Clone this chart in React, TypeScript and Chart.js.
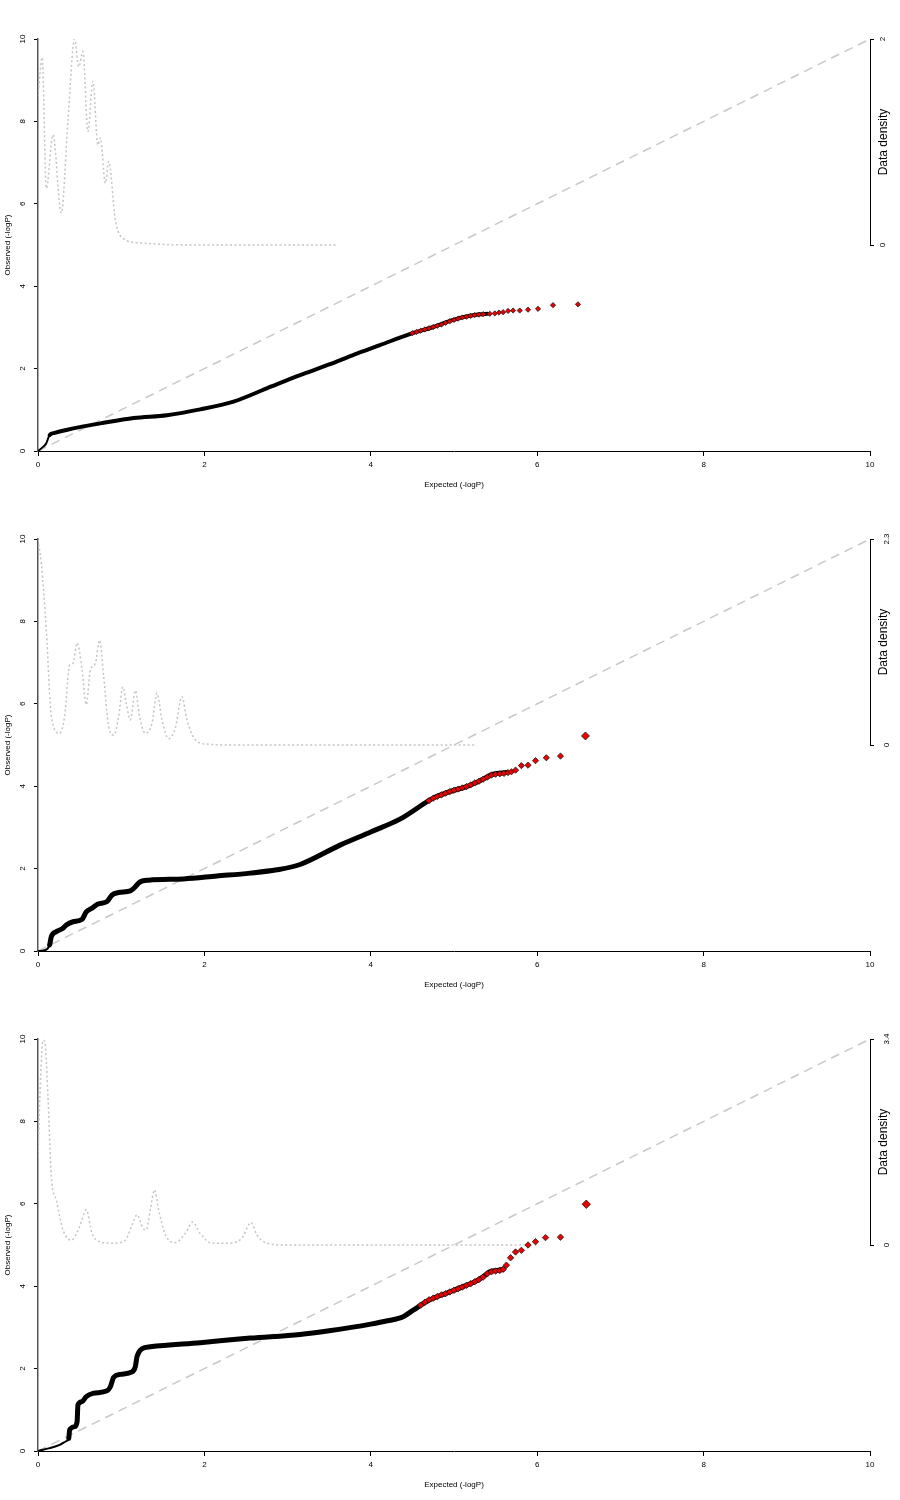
import React, { useEffect, useRef } from "react";
import { Chart, registerables } from "chart.js";
Chart.register(...registerables);

// ---------- shared axis values ----------
const xTicks = [0, 2, 4, 6, 8, 10];
const yTicks = [0, 2, 4, 6, 8, 10];
const densityMax = [2, 2.3, 3.4];
const diagonalX = [0, 10];
const diagonalY = [0, 10];

// ---------- panel 1 ----------
const qq1X = [0, 0.06, 0.10, 0.14, 0.2, 0.34, 0.5, 0.75, 1.15, 1.55, 1.95, 2.35, 2.75, 3.15, 3.5, 3.8, 4.11, 4.5, 4.75, 4.91, 5.11, 5.31, 5.4];
const qq1Y = [0, 0.10, 0.19, 0.39, 0.44, 0.51, 0.58, 0.67, 0.80, 0.87, 1.01, 1.20, 1.52, 1.84, 2.1, 2.34, 2.57, 2.86, 3.01, 3.13, 3.25, 3.32, 3.33];
const tail1X = [4.5, 4.55, 4.6, 4.65, 4.7, 4.75, 4.8, 4.85, 4.9, 4.95, 5.0, 5.05, 5.1, 5.15, 5.2, 5.25, 5.3, 5.35, 5.43, 5.49, 5.54, 5.59, 5.65, 5.71, 5.79, 5.89, 6.01, 6.19, 6.49];
const tail1Y = [2.86, 2.89, 2.92, 2.95, 2.98, 3.01, 3.04, 3.07, 3.11, 3.15, 3.18, 3.21, 3.24, 3.26, 3.28, 3.30, 3.31, 3.32, 3.33, 3.34, 3.36, 3.37, 3.40, 3.41, 3.41, 3.43, 3.45, 3.54, 3.56];
const dens1X = [0, 0.05, 0.10, 0.18, 0.28, 0.36, 0.44, 0.49, 0.54, 0.60, 0.66, 0.72, 0.75, 0.81, 0.85, 0.93, 1.03, 1.23, 1.95, 3.6];
const dens1Y = [1.44, 1.82, 0.55, 1.07, 0.31, 1.21, 2.0, 1.73, 1.88, 1.10, 1.59, 0.97, 1.04, 0.60, 0.81, 0.24, 0.06, 0.02, 0, 0];

// ---------- panel 2 ----------
const qq2X = [0, 0.08, 0.14, 0.16, 0.22, 0.30, 0.34, 0.42, 0.53, 0.58, 0.65, 0.72, 0.83, 0.89, 0.97, 1.11, 1.15, 1.23, 1.33, 1.75, 2.15, 2.55, 2.87, 3.15, 3.63, 4.0, 4.35, 4.75, 4.95, 5.15, 5.31, 5.47, 5.63];
const qq2Y = [0, 0.02, 0.15, 0.35, 0.47, 0.55, 0.63, 0.71, 0.77, 0.95, 1.04, 1.14, 1.20, 1.36, 1.42, 1.46, 1.52, 1.68, 1.72, 1.75, 1.82, 1.89, 1.97, 2.10, 2.57, 2.89, 3.2, 3.71, 3.87, 3.99, 4.13, 4.29, 4.33];
const tail2X = [4.7, 4.75, 4.8, 4.85, 4.9, 4.95, 5.0, 5.05, 5.1, 5.15, 5.2, 5.25, 5.3, 5.35, 5.4, 5.45, 5.5, 5.55, 5.6, 5.65, 5.69, 5.74, 5.81, 5.89, 5.98, 6.11, 6.28, 6.58];
const tail2Y = [3.65, 3.71, 3.75, 3.79, 3.83, 3.87, 3.90, 3.93, 3.96, 3.99, 4.03, 4.08, 4.12, 4.17, 4.22, 4.27, 4.29, 4.30, 4.31, 4.33, 4.35, 4.39, 4.50, 4.51, 4.62, 4.69, 4.73, 5.22];
const dens2X = [0, 0.04, 0.10, 0.16, 0.26, 0.32, 0.38, 0.42, 0.47, 0.53, 0.58, 0.63, 0.69, 0.74, 0.79, 0.85, 0.91, 0.97, 1.02, 1.06, 1.11, 1.17, 1.22, 1.29, 1.37, 1.43, 1.49, 1.57, 1.65, 1.73, 1.79, 1.89, 2.03, 2.35, 5.25];
const dens2Y = [2.29, 2.03, 1.28, 0.32, 0.13, 0.32, 0.89, 0.91, 1.14, 0.84, 0.45, 0.84, 0.91, 1.17, 0.76, 0.20, 0.11, 0.32, 0.65, 0.47, 0.28, 0.61, 0.32, 0.13, 0.24, 0.58, 0.28, 0.07, 0.19, 0.54, 0.28, 0.06, 0.01, 0, 0];

// ---------- panel 3 ----------
const qq3X = [0, 0.14, 0.26, 0.34, 0.37, 0.38, 0.44, 0.47, 0.48, 0.53, 0.58, 0.66, 0.83, 0.87, 0.91, 0.99, 1.13, 1.17, 1.19, 1.25, 1.35, 1.95, 2.55, 3.15, 3.5, 4.0, 4.2, 4.39, 4.51, 4.71, 4.91, 5.11, 5.27, 5.35, 5.43, 5.51, 5.59];
const qq3Y = [0, 0.07, 0.15, 0.24, 0.31, 0.51, 0.59, 0.71, 1.12, 1.20, 1.32, 1.40, 1.46, 1.56, 1.79, 1.86, 1.92, 2.05, 2.29, 2.48, 2.53, 2.63, 2.74, 2.83, 2.92, 3.08, 3.16, 3.26, 3.42, 3.67, 3.83, 3.99, 4.13, 4.23, 4.35, 4.38, 4.41];
const tail3X = [4.6, 4.65, 4.7, 4.75, 4.8, 4.85, 4.9, 4.95, 5.0, 5.05, 5.1, 5.15, 5.2, 5.25, 5.3, 5.35, 5.4, 5.45, 5.5, 5.55, 5.59, 5.63, 5.68, 5.74, 5.81, 5.89, 5.98, 6.10, 6.28, 6.59];
const tail3Y = [3.54, 3.61, 3.67, 3.71, 3.75, 3.79, 3.82, 3.86, 3.90, 3.94, 3.98, 4.02, 4.06, 4.11, 4.16, 4.22, 4.30, 4.35, 4.37, 4.38, 4.41, 4.51, 4.69, 4.83, 4.87, 5.00, 5.08, 5.18, 5.19, 5.99];
const dens3X = [0, 0.03, 0.06, 0.08, 0.12, 0.16, 0.22, 0.30, 0.40, 0.50, 0.58, 0.65, 0.75, 0.91, 1.05, 1.13, 1.19, 1.26, 1.30, 1.35, 1.40, 1.45, 1.53, 1.65, 1.77, 1.86, 1.95, 2.09, 2.27, 2.45, 2.56, 2.63, 2.75, 2.96, 5.85];
const dens3Y = [1.46, 2.72, 3.38, 3.36, 2.45, 1.13, 0.74, 0.25, 0.08, 0.30, 0.58, 0.19, 0.05, 0.03, 0.08, 0.33, 0.50, 0.28, 0.25, 0.58, 0.91, 0.58, 0.17, 0.04, 0.19, 0.38, 0.19, 0.03, 0.03, 0.11, 0.37, 0.17, 0.03, 0, 0];

const FONT = "'Liberation Sans', Arial, Helvetica, sans-serif";

const pts = (xs: number[], ys: number[]) => xs.map((x, i) => ({ x, y: ys[i] }));

const rightAxisPlugin = {
  id: "rightDensityAxis",
  afterDraw(chart: any) {
    const s = chart.scales.y2;
    const ctx = chart.ctx;
    const x = Math.round(chart.chartArea.right) + 0.5;
    const y0 = s.getPixelForValue(0);
    const y1 = s.getPixelForValue(s.max);
    ctx.save();
    ctx.strokeStyle = "#000";
    ctx.lineWidth = 1;
    ctx.beginPath();
    ctx.moveTo(x, y0);
    ctx.lineTo(x, y1);
    ctx.stroke();
    ctx.translate(chart.chartArea.right + 14, (y0 + y1) / 2);
    ctx.rotate(-Math.PI / 2);
    ctx.font = `12px ${FONT}`;
    ctx.fillStyle = "#000";
    ctx.textAlign = "center";
    ctx.textBaseline = "middle";
    ctx.fillText("Data density", 0, 0);
    ctx.restore();
  },
};

type PanelProps = {
  qqX: number[]; qqY: number[];
  tailX: number[]; tailY: number[];
  densX: number[]; densY: number[];
  dmax: number;
  thinUntil: number;
  thick: number;
  radius: number;
  lastRadius: number;
};

function Panel(p: PanelProps) {
  const ref = useRef<HTMLCanvasElement>(null);
  useEffect(() => {
    const tickFont = { family: FONT, size: 8 };
    const chart = new Chart(ref.current!, {
      type: "line",
      data: {
        datasets: [
          {
            data: pts(p.tailX, p.tailY),
            showLine: false,
            pointStyle: "rectRot",
            pointRadius: (ctx: any) => (ctx.dataIndex === p.tailX.length - 1 ? p.lastRadius : p.radius),
            pointBackgroundColor: "#ee0000",
            pointBorderColor: "#1a1a1a",
            pointBorderWidth: 0.8,
            order: 0,
          } as any,
          {
            data: pts(p.qqX, p.qqY),
            borderColor: "#000",
            borderWidth: p.thick,
            pointRadius: 0,
            cubicInterpolationMode: "monotone",
            borderCapStyle: "round",
            borderJoinStyle: "round",
            segment: {
              borderWidth: (ctx: any) => (ctx.p0.parsed.x < p.thinUntil ? 2 : p.thick),
            },
            order: 1,
          } as any,
          {
            data: pts(diagonalX, diagonalY),
            borderColor: "#c8c8c8",
            borderWidth: 1.5,
            borderDash: [9, 6],
            pointRadius: 0,
            order: 2,
          },
          {
            data: pts(p.densX, p.densY),
            yAxisID: "y2",
            borderColor: "#c4c4c4",
            borderWidth: 1.5,
            borderDash: [2, 2.5],
            pointRadius: 0,
            cubicInterpolationMode: "monotone",
            order: 3,
          } as any,
        ],
      },
      options: {
        responsive: false,
        animation: false,
        devicePixelRatio: 1,
        layout: { padding: { top: 39, left: 0, right: 0, bottom: 0 } },
        plugins: { legend: { display: false }, tooltip: { enabled: false }, title: { display: false } },
        scales: {
          x: {
            type: "linear",
            min: 0,
            max: 10,
            afterBuildTicks: (a: any) => { a.ticks = xTicks.map((v) => ({ value: v })); },
            ticks: { font: tickFont, color: "#000", padding: 4, maxRotation: 0, autoSkip: false },
            grid: { display: true, drawOnChartArea: false, drawTicks: true, tickLength: 5, color: "#000", lineWidth: 1 },
            border: { display: true, color: "#000", width: 1 },
            title: { display: true, text: "Expected (-logP)", font: tickFont, color: "#000", padding: { top: 0, bottom: 10 } },
            afterFit: (s: any) => { s.height = 49; },
          },
          y: {
            type: "linear",
            position: "left",
            min: 0,
            max: 10,
            afterBuildTicks: (a: any) => { a.ticks = yTicks.map((v) => ({ value: v })); },
            ticks: { font: tickFont, color: "#000", padding: 7, minRotation: 90, maxRotation: 90, crossAlign: "center", autoSkip: false },
            grid: { display: true, drawOnChartArea: false, drawTicks: true, tickLength: 4, color: "#000", lineWidth: 1 },
            border: { display: true, color: "#555", width: 1.5 },
            title: { display: true, text: "Observed (-logP)", font: tickFont, color: "#000", padding: { top: 3, bottom: 0 } },
            afterFit: (s: any) => { s.width = 38; },
          },
          y2: {
            type: "linear",
            position: "right",
            min: -p.dmax,
            max: p.dmax,
            afterBuildTicks: (a: any) => { a.ticks = [{ value: 0 }, { value: p.dmax }]; },
            ticks: {
              font: tickFont, color: "#000", padding: 7, minRotation: 90, maxRotation: 90, crossAlign: "center", autoSkip: false,
              callback: (v: any) => String(v),
            },
            grid: { display: true, drawOnChartArea: false, drawTicks: true, tickLength: 4, color: "#000", lineWidth: 1 },
            border: { display: false },
            afterFit: (s: any) => { s.width = 30; },
          },
        },
      } as any,
      plugins: [rightAxisPlugin],
    });
    return () => chart.destroy();
  }, []);
  return <canvas ref={ref} width={900} height={500} style={{ display: "block", width: 900, height: 500 }} />;
}

export default function App() {
  useEffect(() => {
    document.body.style.margin = "0";
  }, []);
  return (
    <div style={{ width: 900, background: "#fff" }}>
      <Panel qqX={qq1X} qqY={qq1Y} tailX={tail1X} tailY={tail1Y} densX={dens1X} densY={dens1Y} dmax={densityMax[0]} thinUntil={0.14} thick={4} radius={2.6} lastRadius={2.6} />
      <Panel qqX={qq2X} qqY={qq2Y} tailX={tail2X} tailY={tail2Y} densX={dens2X} densY={dens2Y} dmax={densityMax[1]} thinUntil={0.14} thick={5} radius={3.1} lastRadius={4} />
      <Panel qqX={qq3X} qqY={qq3Y} tailX={tail3X} tailY={tail3Y} densX={dens3X} densY={dens3Y} dmax={densityMax[2]} thinUntil={0.37} thick={5} radius={3.2} lastRadius={4.2} />
    </div>
  );
}
